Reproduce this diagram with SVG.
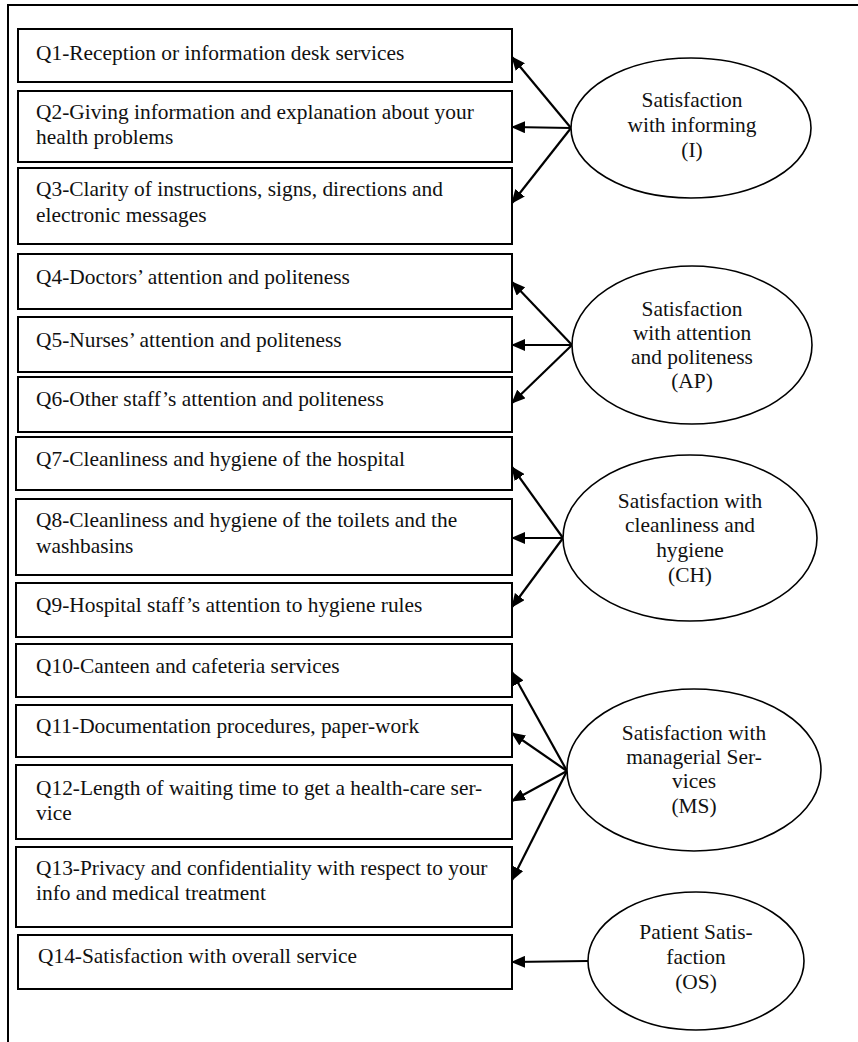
<svg xmlns="http://www.w3.org/2000/svg" width="858" height="1042" viewBox="0 0 858 1042">
<style>
.box{fill:#fff;stroke:#000;stroke-width:2}
.ell{fill:#fff;stroke:#000;stroke-width:1.6}
.t{font-family:"Liberation Serif","Times New Roman",serif;font-size:21.4px;fill:#111}
.c{text-anchor:middle}
.con line{stroke:#000;stroke-width:2.2;marker-end:url(#ah)}
</style>
<defs>
<marker id="ah" viewBox="0 0 14 12" refX="13" refY="6" markerWidth="14" markerHeight="12" markerUnits="userSpaceOnUse" orient="auto">
<path d="M0,0 L14,6 L0,12 z" fill="#000"/>
</marker>
</defs>
<rect width="858" height="1042" fill="#fff"/>
<path d="M8,1042 V5 H858" fill="none" stroke="#000" stroke-width="2"/>

<g id="q1"><rect class="box" x="18" y="29" width="494" height="53"/><text class="t" x="36" y="60">Q1-Reception or information desk services</text></g>
<g id="q2"><rect class="box" x="18" y="91" width="494" height="71"/><text class="t" x="36" y="119">Q2-Giving information and explanation about your</text><text class="t" x="36" y="144">health problems</text></g>
<g id="q3"><rect class="box" x="18" y="168" width="494" height="76"/><text class="t" x="36" y="196">Q3-Clarity of instructions, signs, directions and</text><text class="t" x="36" y="222">electronic messages</text></g>
<g id="q4"><rect class="box" x="18" y="254" width="494" height="55"/><text class="t" x="36" y="284">Q4-Doctors’ attention and politeness</text></g>
<g id="q5"><rect class="box" x="18" y="317" width="494" height="55"/><text class="t" x="36" y="347">Q5-Nurses’ attention and politeness</text></g>
<g id="q6"><rect class="box" x="18" y="377" width="494" height="55"/><text class="t" x="36" y="406">Q6-Other staff’s attention and politeness</text></g>
<g id="q7"><rect class="box" x="16" y="437" width="496" height="53"/><text class="t" x="36" y="466">Q7-Cleanliness and hygiene of the hospital</text></g>
<g id="q8"><rect class="box" x="16" y="499" width="496" height="76"/><text class="t" x="36" y="527">Q8-Cleanliness and hygiene of the toilets and the</text><text class="t" x="36" y="553">washbasins</text></g>
<g id="q9"><rect class="box" x="16" y="583" width="496" height="54"/><text class="t" x="36" y="612">Q9-Hospital staff’s attention to hygiene rules</text></g>
<g id="q10"><rect class="box" x="16" y="644" width="496" height="53"/><text class="t" x="36" y="673">Q10-Canteen and cafeteria services</text></g>
<g id="q11"><rect class="box" x="16" y="705" width="496" height="52"/><text class="t" x="36" y="733">Q11-Documentation procedures, paper-work</text></g>
<g id="q12"><rect class="box" x="16" y="765" width="496" height="74"/><text class="t" x="36" y="795">Q12-Length of waiting time to get a health-care ser-</text><text class="t" x="36" y="820">vice</text></g>
<g id="q13"><rect class="box" x="16" y="847" width="496" height="80"/><text class="t" x="36" y="875">Q13-Privacy and confidentiality with respect to your</text><text class="t" x="36" y="900">info and medical treatment</text></g>
<g id="q14"><rect class="box" x="18" y="935" width="494" height="54"/><text class="t" x="38" y="963">Q14-Satisfaction with overall service</text></g>

<g id="connectors" class="con">
<line x1="571" y1="128" x2="512" y2="57"/>
<line x1="571" y1="128" x2="512" y2="127"/>
<line x1="571" y1="128" x2="512" y2="203"/>
<line x1="572" y1="345" x2="512" y2="282"/>
<line x1="572" y1="345" x2="512" y2="345"/>
<line x1="572" y1="345" x2="512" y2="403"/>
<line x1="563" y1="538" x2="512" y2="467"/>
<line x1="563" y1="538" x2="512" y2="538"/>
<line x1="563" y1="538" x2="512" y2="607"/>
<line x1="567" y1="771" x2="512" y2="672"/>
<line x1="567" y1="771" x2="512" y2="733"/>
<line x1="567" y1="771" x2="512" y2="801"/>
<line x1="567" y1="771" x2="512" y2="880"/>
<line x1="588" y1="961" x2="512" y2="962"/>
</g>

<g id="I"><ellipse class="ell" cx="691" cy="128" rx="120" ry="70"/><text class="t c" x="692" y="107">Satisfaction</text><text class="t c" x="692" y="132">with informing</text><text class="t c" x="692" y="157">(I)</text></g>
<g id="AP"><ellipse class="ell" cx="692" cy="345" rx="120" ry="79"/><text class="t c" x="692" y="316">Satisfaction</text><text class="t c" x="692" y="340">with attention</text><text class="t c" x="692" y="364">and politeness</text><text class="t c" x="692" y="388">(AP)</text></g>
<g id="CH"><ellipse class="ell" cx="690" cy="538" rx="127" ry="83"/><text class="t c" x="690" y="508">Satisfaction with</text><text class="t c" x="690" y="532">cleanliness and</text><text class="t c" x="690" y="557">hygiene</text><text class="t c" x="690" y="582">(CH)</text></g>
<g id="MS"><ellipse class="ell" cx="694" cy="770" rx="127" ry="81"/><text class="t c" x="694" y="740">Satisfaction with</text><text class="t c" x="694" y="764">managerial Ser-</text><text class="t c" x="694" y="788">vices</text><text class="t c" x="694" y="813">(MS)</text></g>
<g id="OS"><ellipse class="ell" cx="696" cy="961" rx="108" ry="69"/><text class="t c" x="696" y="939">Patient Satis-</text><text class="t c" x="696" y="964">faction</text><text class="t c" x="696" y="989">(OS)</text></g>
</svg>
